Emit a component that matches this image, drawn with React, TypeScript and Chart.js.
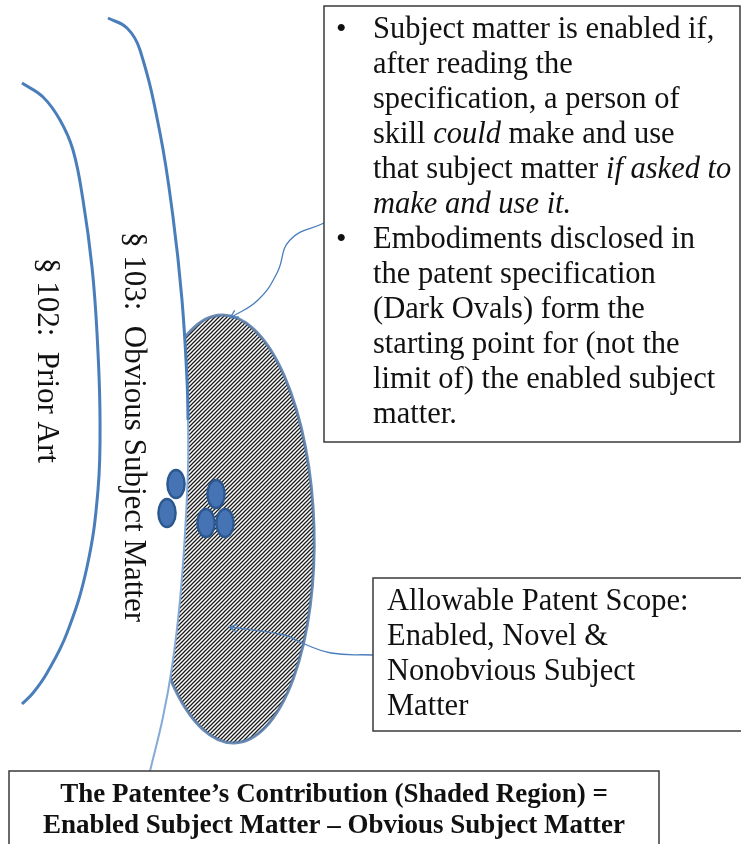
import React, { useEffect, useRef } from "react";
import { Chart, registerables } from "chart.js";
Chart.register(...registerables);

const W = 741;
const H = 844;

// § 102 curve (prior art boundary)
const priorArtX = [22, 43, 60, 73, 83, 92, 97, 100, 98, 87, 67, 47, 33, 22];
const priorArtY = [83, 97, 120, 150, 200, 267, 333, 417, 490, 567, 633, 673, 693, 704];
// § 103 curve (obvious subject matter boundary)
const obviousX = [108, 127, 140, 160, 173, 182, 187, 188, 188, 185, 180, 172, 163, 150];
const obviousY = [18, 28, 50, 133, 217, 300, 380, 420, 467, 533, 600, 667, 717, 771];
const obviousSplitIndex = 7;
// enabled subject matter oval
const enabledCenter = [228, 529];
const enabledRadii = [86, 214];
const enabledTilt = -0.03;
// embodiments (dark ovals)
const embodimentX = [176, 167, 216, 206, 225];
const embodimentY = [484, 513, 494, 523, 523];
// callout leader lines
const calloutTopX = [324, 290, 277, 258, 230];
const calloutTopY = [223, 240, 273, 300, 318];
const calloutScopeX = [373, 331, 302, 284, 229];
const calloutScopeY = [655, 653, 643, 635, 627];
// boxes [left, top, right, bottom]
const noteBox = [324, 6, 740, 442];
const scopeBox = [373, 578, 745, 731];
const contribBox = [9, 771, 659, 852];

const noteLines: [string, boolean][][] = [
  [["Subject matter is enabled if,", false]],
  [["after reading the", false]],
  [["specification, a person of", false]],
  [["skill ", false], ["could", true], [" make and use", false]],
  [["that subject matter ", false], ["if asked to", true]],
  [["make and use it.", true]],
  [["Embodiments disclosed in", false]],
  [["the patent specification", false]],
  [["(Dark Ovals) form the", false]],
  [["starting point for (not the", false]],
  [["limit of) the enabled subject", false]],
  [["matter.", false]],
];
const noteBullets = [0, 6];
const scopeLines = [
  "Allowable Patent Scope:",
  "Enabled, Novel &",
  "Nonobvious Subject",
  "Matter",
];
const contribLines = [
  "The Patentee\u2019s Contribution (Shaded Region) =",
  "Enabled Subject Matter \u2013 Obvious Subject Matter",
];
const priorArtLabel = "\u00a7 102:  Prior Art";
const obviousLabel = "\u00a7 103:  Obvious Subject Matter";

const SERIF = '"Liberation Serif", "DejaVu Serif", serif';
const BLUE = "#4a7ebb";
const LIGHT_BLUE = "#86aad8";

const pts = (xs: number[], ys: number[]) => xs.map((x, i) => ({ x, y: ys[i] }));

export default function App() {
  const ref = useRef<HTMLCanvasElement | null>(null);

  useEffect(() => {
    const canvas = ref.current;
    if (!canvas) return;

    const oval = document.createElement("canvas");
    oval.width = 22;
    oval.height = 34;
    {
      const g = oval.getContext("2d")!;
      g.beginPath();
      g.ellipse(11, 17, 8.6, 14, 0, 0, Math.PI * 2);
      g.fillStyle = "#4673b3";
      g.fill();
      g.lineWidth = 2.4;
      g.strokeStyle = "#2c5890";
      g.stroke();
    }

    const hatchTile = document.createElement("canvas");
    hatchTile.width = 4;
    hatchTile.height = 4;
    {
      const g = hatchTile.getContext("2d")!;
      g.fillStyle = "#ffffff";
      g.fillRect(0, 0, 4, 4);
      g.strokeStyle = "#1a1a1a";
      g.lineWidth = 1.25;
      g.beginPath();
      g.moveTo(-1, 5);
      g.lineTo(5, -1);
      g.moveTo(-3, 3);
      g.lineTo(3, -3);
      g.moveTo(1, 7);
      g.lineTo(7, 1);
      g.stroke();
    }

    const diagramPlugin = {
      id: "diagram",
      beforeDatasetsDraw(chart: any) {
        const ctx = chart.ctx as CanvasRenderingContext2D;
        const xs = chart.scales.x;
        const ys = chart.scales.y;
        const cx = xs.getPixelForValue(enabledCenter[0]);
        const cy = ys.getPixelForValue(enabledCenter[1]);
        const rx = Math.abs(xs.getPixelForValue(enabledCenter[0] + enabledRadii[0]) - cx);
        const ry = Math.abs(ys.getPixelForValue(enabledCenter[1] + enabledRadii[1]) - cy);
        const meta = chart.getDatasetMeta(1);
        const line = meta.dataset;
        try {
          line.updateControlPoints(chart.chartArea, "x");
        } catch (e) {
          /* ignore */
        }
        const p = meta.data as any[];
        ctx.save();
        ctx.beginPath();
        ctx.moveTo(p[0].x, p[0].y);
        for (let i = 1; i < p.length; i++) {
          const a = p[i - 1];
          const b = p[i];
          if (a.cp2x !== undefined && b.cp1x !== undefined) {
            ctx.bezierCurveTo(a.cp2x, a.cp2y, b.cp1x, b.cp1y, b.x, b.y);
          } else {
            ctx.lineTo(b.x, b.y);
          }
        }
        const first = p[0];
        const last = p[p.length - 1];
        ctx.lineTo(W + 20, last.y);
        ctx.lineTo(W + 20, first.y);
        ctx.closePath();
        ctx.clip();
        ctx.beginPath();
        ctx.ellipse(cx, cy, rx, ry, enabledTilt, 0, Math.PI * 2);
        ctx.fillStyle = ctx.createPattern(hatchTile, "repeat")!;
        ctx.fill();
        ctx.lineWidth = 3;
        ctx.strokeStyle = "rgba(84,120,166,0.85)";
        ctx.stroke();
        ctx.restore();
      },
      afterDatasetsDraw(chart: any) {
        const ctx = chart.ctx as CanvasRenderingContext2D;
        // arrowheads on the two callouts
        [3, 4].forEach((di) => {
          const meta = chart.getDatasetMeta(di);
          const n = meta.data.length;
          const tip = meta.data[n - 1];
          const prev = meta.data[n - 2];
          const fx = tip.cp1x !== undefined ? tip.cp1x : prev.x;
          const fy = tip.cp1y !== undefined ? tip.cp1y : prev.y;
          const ang = Math.atan2(tip.y - fy, tip.x - fx);
          ctx.save();
          ctx.strokeStyle = BLUE;
          ctx.lineWidth = 1.3;
          ctx.beginPath();
          for (const s of [-1, 1]) {
            ctx.moveTo(tip.x, tip.y);
            ctx.lineTo(tip.x - 9 * Math.cos(ang + s * 0.45), tip.y - 9 * Math.sin(ang + s * 0.45));
          }
          ctx.stroke();
          ctx.restore();
        });
      },
      afterDraw(chart: any) {
        const ctx = chart.ctx as CanvasRenderingContext2D;
        const xs = chart.scales.x;
        const ys = chart.scales.y;
        const px = (v: number) => xs.getPixelForValue(v);
        const py = (v: number) => ys.getPixelForValue(v);
        const box = (b: number[]) => {
          const x0 = px(b[0]), y0 = py(b[1]), x1 = px(b[2]), y1 = py(b[3]);
          ctx.fillStyle = "#ffffff";
          ctx.fillRect(x0, y0, x1 - x0, y1 - y0);
          ctx.strokeStyle = "#3a3a3a";
          ctx.lineWidth = 1.5;
          ctx.strokeRect(x0, y0, x1 - x0, y1 - y0);
        };
        ctx.save();
        box(noteBox);
        box(scopeBox);
        box(contribBox);

        ctx.fillStyle = "#111111";
        ctx.textBaseline = "alphabetic";
        ctx.textAlign = "left";
        // note box
        noteLines.forEach((runs, i) => {
          let x = px(373);
          const y = py(38 + 35 * i);
          runs.forEach(([t, it]) => {
            ctx.font = `${it ? "italic " : ""}30.5px ${SERIF}`;
            ctx.fillText(t, x, y);
            x += ctx.measureText(t).width;
          });
        });
        ctx.font = `30px ${SERIF}`;
        noteBullets.forEach((i) => ctx.fillText("\u2022", px(336), py(38 + 35 * i)));
        // scope box
        ctx.font = `30.5px ${SERIF}`;
        scopeLines.forEach((t, i) => ctx.fillText(t, px(387), py(610 + 35 * i)));
        // contribution box
        ctx.font = `bold 27px ${SERIF}`;
        ctx.textAlign = "center";
        contribLines.forEach((t, i) => ctx.fillText(t, px(334), py(802 + 31 * i)));
        // rotated labels
        ctx.textAlign = "left";
        ctx.font = `31px ${SERIF}`;
        ctx.save();
        ctx.translate(px(38), py(258));
        ctx.rotate(Math.PI / 2);
        ctx.fillText(priorArtLabel, 0, 0);
        ctx.restore();
        ctx.save();
        ctx.translate(px(125), py(232));
        ctx.rotate(Math.PI / 2);
        ctx.fillText(obviousLabel, 0, 0);
        ctx.restore();
        ctx.restore();
      },
    };

    const chart = new Chart(canvas, {
      type: "scatter",
      data: {
        datasets: [
          {
            label: "102",
            data: pts(priorArtX, priorArtY),
            showLine: true,
            tension: 0.4,
            borderColor: BLUE,
            borderWidth: 3,
            pointRadius: 0,
          },
          {
            label: "103",
            data: pts(obviousX, obviousY),
            showLine: true,
            tension: 0.4,
            borderColor: BLUE,
            borderWidth: 3,
            pointRadius: 0,
            segment: {
              borderColor: (c: any) => (c.p0DataIndex >= obviousSplitIndex ? LIGHT_BLUE : BLUE),
              borderWidth: (c: any) => (c.p0DataIndex >= obviousSplitIndex ? 2 : 3),
            },
          },
          {
            label: "embodiments",
            data: pts(embodimentX, embodimentY),
            showLine: false,
            pointStyle: oval as any,
            pointRadius: 8,
          },
          {
            label: "calloutTop",
            data: pts(calloutTopX, calloutTopY),
            showLine: true,
            tension: 0.45,
            borderColor: BLUE,
            borderWidth: 1.3,
            pointRadius: 0,
          },
          {
            label: "calloutScope",
            data: pts(calloutScopeX, calloutScopeY),
            showLine: true,
            tension: 0.45,
            borderColor: BLUE,
            borderWidth: 1.3,
            pointRadius: 0,
          },
        ],
      },
      options: {
        animation: false,
        responsive: false,
        maintainAspectRatio: false,
        layout: { padding: 0, autoPadding: false },
        plugins: { legend: { display: false }, tooltip: { enabled: false } },
        events: [],
        scales: {
          x: { type: "linear", min: 0, max: W, display: false },
          y: { type: "linear", min: 0, max: H, reverse: true, display: false },
        },
      },
      plugins: [diagramPlugin],
    } as any);

    return () => chart.destroy();
  }, []);

  return (
    <div style={{ position: "fixed", left: 0, top: 0, width: W, height: H, background: "#ffffff" }}>
      <canvas ref={ref} width={W} height={H} style={{ display: "block" }} />
    </div>
  );
}
